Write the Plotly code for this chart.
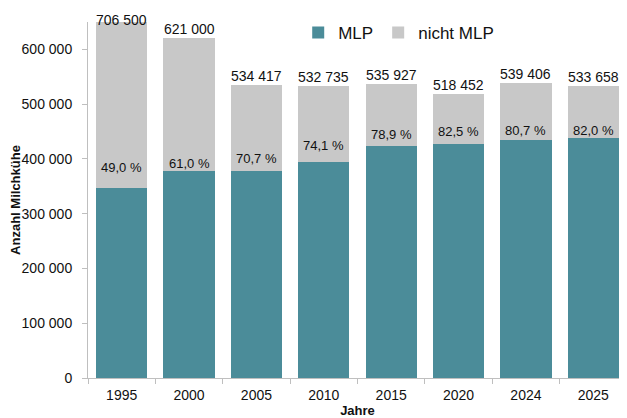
import plotly.graph_objects as go

years = ["1995", "2000", "2005", "2010", "2015", "2020", "2024", "2025"]
totals = [706500, 621000, 534417, 532735, 535927, 518452, 539406, 533658]
mlp = [346185, 378810, 377833, 394757, 422846, 427723, 435301, 437600]
nicht_mlp = [360315, 242190, 156584, 137978, 113081, 90729, 104105, 96058]
shares = ["49,0 %", "61,0 %", "70,7 %", "74,1 %", "78,9 %", "82,5 %", "80,7 %", "82,0 %"]
total_labels = ["706 500", "621 000", "534 417", "532 735", "535 927", "518 452", "539 406", "533 658"]
ytick_vals = [0, 100000, 200000, 300000, 400000, 500000, 600000]
ytick_text = ["0", "100 000", "200 000", "300 000", "400 000", "500 000", "600 000"]

# pixel offsets of the share labels above the MLP segment (layout only)
share_label_shift = [21, 7, 13, 16, 12, 12, 9, 8]

YMAX = 650000
TEAL = "#4b8c99"
GRAY = "#c8c8c8"
FONT = "Liberation Sans, Arial, sans-serif"

fig = go.Figure()
fig.add_trace(go.Bar(x=years, y=mlp, name="MLP", marker=dict(color=TEAL, line=dict(width=0))))
fig.add_trace(go.Bar(x=years, y=nicht_mlp, name="nicht MLP", marker=dict(color=GRAY, line=dict(width=0))))

for i, (t, lab) in enumerate(zip(totals, total_labels)):
    fig.add_annotation(x=i, y=min(t, YMAX), text=lab, showarrow=False,
                       yanchor="middle", yshift=9 if t < YMAX else 2,
                       font=dict(size=14, color="#111111", family=FONT))
for i, (m, s) in enumerate(zip(mlp, shares)):
    fig.add_annotation(x=i, y=m, text=s, showarrow=False,
                       yanchor="middle", yshift=share_label_shift[i],
                       font=dict(size=13, color="#111111", family=FONT))

fig.update_layout(
    width=619, height=410,
    barmode="stack", bargap=0.24,
    plot_bgcolor="white", paper_bgcolor="white",
    margin=dict(l=80, r=0, t=14, b=40, autoexpand=False),
    font=dict(family=FONT, size=14, color="#111111"),
    showlegend=True,
    legend=dict(orientation="h", x=0.39, xanchor="left", y=0.969, yanchor="middle",
                font=dict(size=17, color="#111111"), bgcolor="rgba(0,0,0,0)",
                traceorder="normal", itemwidth=30),
    xaxis=dict(type="category", range=[-0.5, len(years) - 0.5], showline=True,
               linecolor="#bfbfbf", linewidth=1, automargin=False,
               ticks="outside", tickson="boundaries", ticklen=5, tickcolor="#bfbfbf",
               tickfont=dict(size=14, color="#111111"), tickangle=0, ticklabelstandoff=4,
               title=dict(text="<b>Jahre</b>", font=dict(size=13), standoff=7)),
    yaxis=dict(range=[0, YMAX], showline=True, linecolor="#bfbfbf", linewidth=1,
               showgrid=False, zeroline=False, automargin=False,
               ticks="outside", ticklen=5, tickcolor="#bfbfbf",
               tickvals=ytick_vals, ticktext=ytick_text, ticklabelstandoff=7,
               tickfont=dict(size=14, color="#111111"),
               title=dict(text="<b>Anzahl Milchkühe</b>", font=dict(size=13), standoff=0)),
)

fig.write_html("out.html")
